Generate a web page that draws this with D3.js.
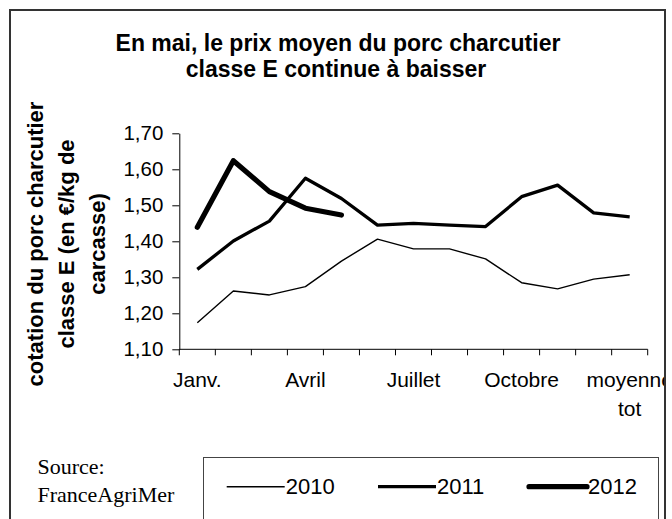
<!DOCTYPE html>
<html>
<head>
<meta charset="utf-8">
<script src="https://cdn.jsdelivr.net/npm/d3@7"></script>
<style>
  html, body { margin: 0; padding: 0; background: #fff; }
  svg { display: block; }
  text { font-family: "Liberation Sans", Arial, sans-serif; fill: #000; }
</style>
</head>
<body>
<svg id="chart" width="672" height="519"></svg>
<script>
// ---- data ----
const categories = ["Janv.", "Févr.", "Mars", "Avril", "Mai", "Juin", "Juillet", "Août", "Sept.", "Octobre", "Nov.", "Déc.", "moyenne tot"];
const xTickLabels = ["Janv.", "", "", "Avril", "", "", "Juillet", "", "", "Octobre", "", "", "moyenne tot"];
const yTicks = [1.10, 1.20, 1.30, 1.40, 1.50, 1.60, 1.70];
const seriesNames = ["2010", "2011", "2012"];
const values2010 = [1.174, 1.262, 1.251, 1.274, 1.345, 1.406, 1.379, 1.379, 1.351, 1.285, 1.268, 1.295, 1.307];
const values2011 = [1.322, 1.401, 1.456, 1.575, 1.519, 1.445, 1.450, 1.445, 1.441, 1.524, 1.556, 1.479, 1.468];
const values2012 = [1.439, 1.624, 1.538, 1.492, 1.473];
const titleLines = ["En mai, le prix moyen du porc charcutier", "classe E continue à baisser"];
const yTitleLines = ["cotation du porc charcutier", "classe E (en €/kg de", "carcasse)"];
const sourceLines = ["Source:", "FranceAgriMer"];

const series = [
  { name: seriesNames[0], values: values2010, width: 1.4 },
  { name: seriesNames[1], values: values2011, width: 3.3 },
  { name: seriesNames[2], values: values2012, width: 5.2 }
];

const svg = d3.select("#chart");

// clip to frame interior
svg.append("defs").append("clipPath").attr("id", "frameClip")
  .append("rect").attr("x", 10).attr("y", 10).attr("width", 655).attr("height", 520);

const g = svg.append("g").attr("clip-path", "url(#frameClip)");

// ---- scales ----
const x = d3.scaleBand().domain(categories).range([179.3, 647.7]).padding(0);
const cx = c => x(c) + x.bandwidth() / 2;
const y = d3.scaleLinear().domain([1.1, 1.7]).range([349.3, 133.3]);

// ---- title ----
g.append("text").attr("x", 338).attr("y", 50.7).attr("text-anchor", "middle")
  .style("font-size", "23px").style("font-weight", "bold").text(titleLines[0]);
g.append("text").attr("x", 336).attr("y", 77.3).attr("text-anchor", "middle")
  .style("font-size", "23px").style("font-weight", "bold").text(titleLines[1]);

// ---- y title ----
const yTitleBaselines = [43, 74, 105];
yTitleLines.forEach((t, i) => {
  g.append("text")
    .attr("transform", `translate(${yTitleBaselines[i]},244) rotate(-90)`)
    .attr("text-anchor", "middle")
    .style("font-size", "22px").style("font-weight", "bold")
    .text(t);
});

// ---- y axis ----
const yAxis = d3.axisLeft(y).tickValues(yTicks)
  .tickFormat(d => d.toFixed(2).replace(".", ","))
  .tickSize(7).tickSizeOuter(0).tickPadding(9);
const yg = g.append("g").attr("transform", "translate(179.3,0)").call(yAxis);
yg.selectAll("text").style("font-size", "20.5px").style("font-family", "'Liberation Sans', Arial, sans-serif");
yg.selectAll("line, path").attr("stroke", "#000").attr("stroke-width", 1);

// ---- x axis ----
const xg = g.append("g");
xg.append("line").attr("x1", x.range()[0]).attr("x2", x.range()[1])
  .attr("y1", y(1.1)).attr("y2", y(1.1)).attr("stroke", "#000");
const edges = categories.map(c => x(c)).concat([x.range()[1]]);
xg.selectAll("line.tick").data(edges).enter().append("line").attr("class", "tick")
  .attr("x1", d => d).attr("x2", d => d)
  .attr("y1", y(1.1)).attr("y2", y(1.1) + 6).attr("stroke", "#000");
categories.forEach((c, i) => {
  const lab = xTickLabels[i];
  if (!lab) return;
  const parts = lab === "moyenne tot" ? ["moyenne", "tot"] : [lab];
  parts.forEach((p, j) => {
    xg.append("text").attr("x", cx(c)).attr("y", 386.7 + j * 29.3)
      .attr("text-anchor", "middle").style("font-size", "21px").text(p);
  });
});

// ---- lines ----
const line = d3.line().x((d, i) => cx(categories[i])).y(d => y(d));
series.forEach(s => {
  g.append("path").datum(s.values).attr("d", line)
    .attr("fill", "none").attr("stroke", "#000")
    .attr("stroke-width", s.width)
    .attr("stroke-linejoin", "round")
    .attr("stroke-linecap", s.width > 4 ? "round" : "butt");
});

// ---- source ----
sourceLines.forEach((t, i) => {
  g.append("text").attr("x", 37.5).attr("y", 474 + i * 27.7)
    .style("font-family", "'Liberation Serif', 'Times New Roman', serif")
    .style("font-size", "22px").text(t);
});

// ---- legend ----
const lg = g.append("g");
lg.append("rect").attr("x", 203.5).attr("y", 457.5).attr("width", 455).attr("height", 80)
  .attr("fill", "none").attr("stroke", "#444").attr("stroke-width", 1);
const legendX = [226.7, 378, 529];
series.forEach((s, i) => {
  lg.append("line").attr("x1", legendX[i]).attr("x2", legendX[i] + 58)
    .attr("y1", 486.7).attr("y2", 486.7)
    .attr("stroke", "#000").attr("stroke-width", s.width)
    .attr("stroke-linecap", s.width > 4 ? "round" : "butt");
  lg.append("text").attr("x", legendX[i] + 59).attr("y", 494)
    .style("font-size", "22px").text(s.name);
});

// ---- frame ----
svg.append("rect").attr("x", 10).attr("y", 10).attr("width", 655).attr("height", 530)
  .attr("fill", "none").attr("stroke", "#333").attr("stroke-width", 2);
</script>
</body>
</html>
